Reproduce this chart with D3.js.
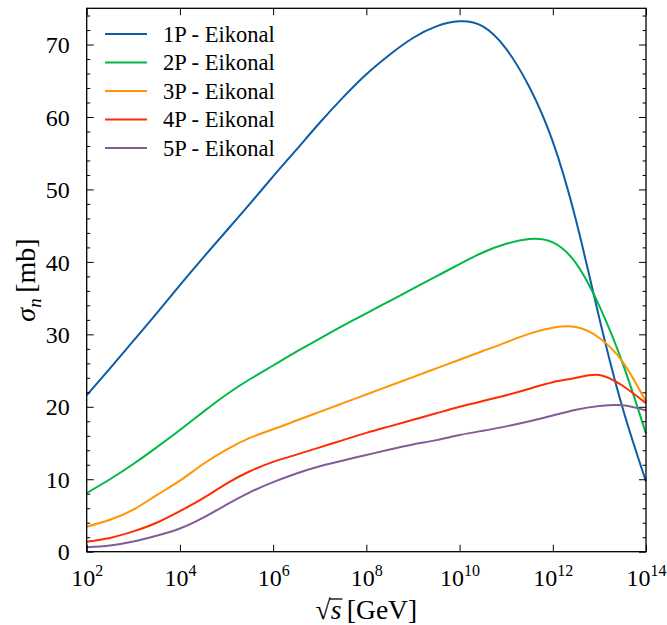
<!DOCTYPE html>
<html>
<head>
<meta charset="utf-8">
<script src="https://cdn.jsdelivr.net/npm/d3@7"></script>
<style>
  html, body { margin: 0; padding: 0; background: #fff; }
  svg { display: block; }
  svg text { font-family: "Liberation Serif", "DejaVu Serif", serif !important; fill: #000; }
</style>
</head>
<body>
<svg id="chart" width="667" height="625" font-family="Liberation Serif, serif"></svg>
<script>
// log10 of sqrt(s) in GeV at which each cross section is tabulated
const log10SqrtS = [2, 2.5, 3, 3.5, 4, 4.5, 5, 5.5, 6, 6.5, 7, 7.5, 8, 8.5, 9, 9.5, 10, 10.5, 11, 11.5, 12, 12.5, 13, 13.5, 14];

// sigma_n [mb] for each pomeron-exchange multiplicity (eikonal model)
const sigma1P = [21.6, 25.3, 29.1, 32.9, 36.8, 40.6, 44.3, 48.0, 51.8, 55.5, 59.2, 62.7, 65.9, 68.6, 70.9, 72.5, 73.2, 72.5, 69.4, 64.1, 56.6, 45.7, 32.2, 19.8, 9.7];
const sigma2P = [8.1, 10.0, 12.1, 14.4, 16.8, 19.3, 21.7, 23.8, 25.7, 27.6, 29.4, 31.2, 32.9, 34.6, 36.3, 38.0, 39.7, 41.3, 42.5, 43.15, 42.7, 39.8, 33.9, 26.0, 16.3];
const sigma3P = [3.45, 4.4, 5.8, 7.8, 9.8, 12.1, 14.1, 15.7, 16.9, 18.1, 19.3, 20.5, 21.7, 22.9, 24.1, 25.3, 26.5, 27.7, 28.9, 30.1, 30.9, 31.0, 29.5, 26.2, 20.7];
const sigma4P = [1.38, 1.9, 2.8, 4.0, 5.6, 7.4, 9.4, 11.1, 12.4, 13.4, 14.4, 15.4, 16.4, 17.3, 18.2, 19.1, 20.0, 20.8, 21.6, 22.5, 23.4, 24.0, 24.4, 22.9, 20.5];
const sigma5P = [0.6, 0.85, 1.4, 2.2, 3.2, 4.7, 6.5, 8.2, 9.6, 10.8, 11.8, 12.6, 13.35, 14.1, 14.8, 15.4, 16.1, 16.7, 17.3, 18.0, 18.8, 19.6, 20.1, 20.2, 19.5];

const seriesNames = ["1P - Eikonal", "2P - Eikonal", "3P - Eikonal", "4P - Eikonal", "5P - Eikonal"];
const seriesValues = [sigma1P, sigma2P, sigma3P, sigma4P, sigma5P];
const seriesColors = ["#0C5DA5", "#00B945", "#FF9500", "#FF2C00", "#845B97"];

const xTickExponents = [2, 4, 6, 8, 10, 12, 14];
const yMajorTicks = [0, 10, 20, 30, 40, 50, 60, 70];
const yMinorTicks = d3.range(0, 76, 2).filter(v => v % 10 !== 0);

const FONT = "Liberation Serif, DejaVu Serif, serif";
const svg = d3.select("#chart");
const plot = { left: 86.7, right: 646, top: 8.3, bottom: 551.7 };

const x = d3.scaleLog().domain([1e2, 1e14]).range([plot.left, plot.right]);
const y = d3.scaleLinear().domain([0, 75]).range([plot.bottom, plot.top]);

// curves
const line = d3.line()
  .x(d => x(Math.pow(10, d[0])))
  .y(d => y(d[1]))
  .curve(d3.curveNatural);

const curves = svg.append("g");
seriesValues.forEach((vals, i) => {
  curves.append("path")
    .datum(log10SqrtS.map((e, j) => [e, vals[j]]))
    .attr("d", line)
    .attr("fill", "none")
    .attr("stroke", seriesColors[i])
    .attr("stroke-width", 2)
    .attr("stroke-linejoin", "round");
});

// axes with inward ticks on all four sides
const xVals = xTickExponents.map(e => Math.pow(10, e));
const major = 7, minor = 3.5;

function styleAxis(g) {
  g.attr("font-family", FONT);
  g.select(".domain").remove();
  g.selectAll(".tick line").attr("stroke", "#000").attr("stroke-width", 1);
}

const xBottom = svg.append("g")
  .attr("transform", `translate(0,${plot.bottom})`)
  .call(d3.axisBottom(x).tickValues(xVals).tickSizeInner(-major).tickSizeOuter(0).tickPadding(9).tickFormat(""))
  .call(styleAxis);
xBottom.selectAll(".tick text")
  .attr("font-size", 24)
  .attr("dy", "1.05em")
  .each(function(d) {
    const t = d3.select(this);
    t.text("10");
    t.append("tspan").attr("font-size", 16).attr("dy", "-0.62em").text(Math.round(Math.log10(d)));
  });

svg.append("g")
  .attr("transform", `translate(0,${plot.top})`)
  .call(d3.axisTop(x).tickValues(xVals).tickSizeInner(-major).tickSizeOuter(0).tickFormat(""))
  .call(styleAxis);

const yLeft = svg.append("g")
  .attr("transform", `translate(${plot.left},0)`)
  .call(d3.axisLeft(y).tickValues(yMajorTicks).tickSizeInner(-major).tickSizeOuter(0).tickPadding(17))
  .call(styleAxis);
yLeft.selectAll(".tick text").attr("font-size", 24).attr("dy", "0.34em");

svg.append("g")
  .attr("transform", `translate(${plot.left},0)`)
  .call(d3.axisLeft(y).tickValues(yMinorTicks).tickSizeInner(-minor).tickSizeOuter(0).tickFormat(""))
  .call(styleAxis);

svg.append("g")
  .attr("transform", `translate(${plot.right},0)`)
  .call(d3.axisRight(y).tickValues(yMajorTicks).tickSizeInner(-major).tickSizeOuter(0).tickFormat(""))
  .call(styleAxis);
svg.append("g")
  .attr("transform", `translate(${plot.right},0)`)
  .call(d3.axisRight(y).tickValues(yMinorTicks).tickSizeInner(-minor).tickSizeOuter(0).tickFormat(""))
  .call(styleAxis);

// frame
svg.append("rect")
  .attr("x", plot.left).attr("y", plot.top)
  .attr("width", plot.right - plot.left).attr("height", plot.bottom - plot.top)
  .attr("fill", "none").attr("stroke", "#000").attr("stroke-width", 1.3);

// legend
const legend = svg.append("g").attr("transform", "translate(105,34)").attr("font-family", FONT);
seriesNames.forEach((name, i) => {
  const row = legend.append("g").attr("transform", `translate(0,${i * 28.5})`);
  row.append("line").attr("x1", 0).attr("x2", 42).attr("y1", 0).attr("y2", 0)
    .attr("stroke", seriesColors[i]).attr("stroke-width", 2);
  row.append("text").attr("x", 58).attr("y", 7.5).attr("font-size", 22.5).text(name);
});

// y-axis label: sigma_n [mb]
const yLabel = svg.append("text")
  .attr("transform", `translate(27,${(plot.top + plot.bottom) / 2}) rotate(-90)`)
  .attr("text-anchor", "middle")
  .attr("dy", "0.3em")
  .attr("font-family", FONT)
  .attr("font-size", 28);
yLabel.append("tspan").attr("font-style", "italic").text("σ");
yLabel.append("tspan").attr("font-style", "italic").attr("font-size", 19).attr("dy", 6).text("n");
yLabel.append("tspan").attr("dy", -6).text("\u2009[mb]");

// x-axis label: sqrt(s) [GeV]
const xLabel = svg.append("text")
  .attr("x", (plot.left + plot.right) / 2)
  .attr("y", 619)
  .attr("text-anchor", "middle")
  .attr("font-family", FONT)
  .attr("font-size", 27.5);
xLabel.append("tspan").text("√");
xLabel.append("tspan").attr("font-style", "italic").text("s");
xLabel.append("tspan").text("\u2009[GeV]");
const node = xLabel.node();
const rad = node.getExtentOfChar(0);
const sBox = node.getExtentOfChar(1);
svg.append("line")
  .attr("x1", rad.x + rad.width - 1).attr("x2", sBox.x + sBox.width + 1)
  .attr("y1", 619 - 20).attr("y2", 619 - 20)
  .attr("stroke", "#000").attr("stroke-width", 1.3);
</script>
</body>
</html>
